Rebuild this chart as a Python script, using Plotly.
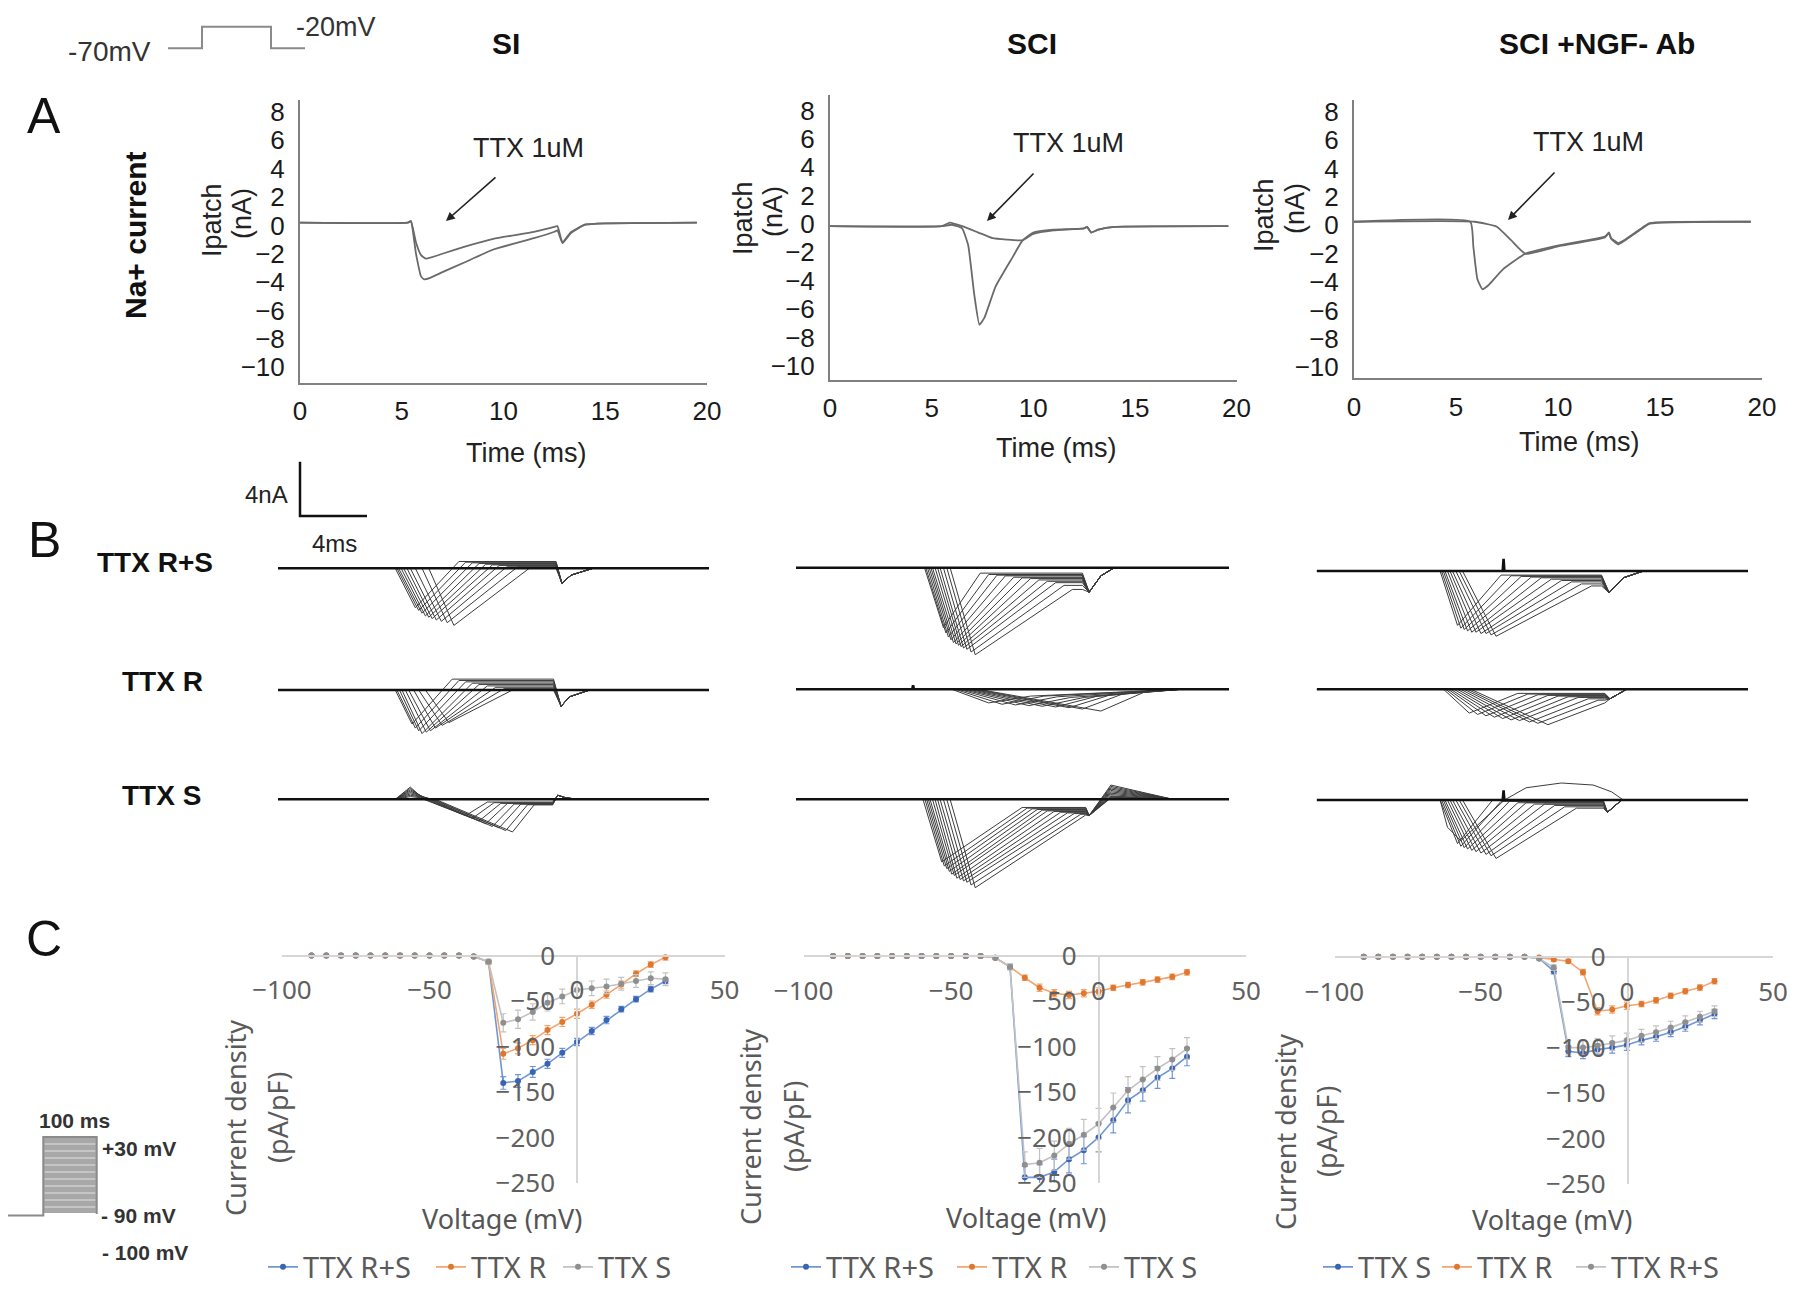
import plotly.graph_objects as go

W, H = 1800, 1290
OFF = 8  # the page body adds an 8 px margin around the figure
FA = "Liberation Sans, Arial, sans-serif"
FC = "Noto Sans, Open Sans, sans-serif"

# ---------------- Panel A : Na+ current (time ms, current nA) ----------------
A_XTICKS = [0, 5, 10, 15, 20]
A_YTICKS = [-10, -8, -6, -4, -2, 0, 2, 4, 6, 8]

A_SI_ctrl_t = [0, 5.3, 5.45, 5.7, 5.95, 6.1, 6.4, 7.0, 8.1, 9.5, 11.5, 12.5, 12.65, 12.9, 13.3, 14.0, 15.0, 19.5]
A_SI_ctrl_v = [0.2, 0.2, 0.3, -2.0, -3.6, -3.8, -3.7, -3.3, -2.6, -1.7, -0.9, -0.45, -0.35, -1.25, -0.55, 0.05, 0.15, 0.2]
A_SI_ttx_t = [0, 5.3, 5.45, 5.7, 5.95, 6.2, 7.0, 8.1, 9.5, 11.5, 12.5, 12.65, 12.9, 13.3, 14.0, 15.0, 19.5]
A_SI_ttx_v = [0.2, 0.2, 0.3, -1.2, -2.1, -2.35, -2.0, -1.5, -0.95, -0.45, -0.1, -0.05, -1.2, -0.5, 0.05, 0.15, 0.2]

A_SCI_ctrl_t = [0, 5.5, 6.0, 6.5, 6.8, 7.1, 7.35, 7.6, 8.15, 9.0, 9.45, 10.0, 11.0, 12.5, 12.65, 12.85, 13.2, 14.0, 19.6]
A_SCI_ctrl_v = [-0.15, -0.15, -0.05, -0.3, -1.5, -5.0, -7.1, -6.6, -4.4, -2.3, -1.2, -0.6, -0.4, -0.3, -0.2, -0.6, -0.4, -0.2, -0.15]
A_SCI_ttx_t = [0, 5.5, 5.9, 6.5, 7.3, 8.0, 8.7, 9.45, 10.0, 11.0, 12.5, 12.65, 12.85, 13.2, 14.0, 19.6]
A_SCI_ttx_v = [-0.15, -0.15, 0.1, -0.15, -0.6, -1.0, -1.1, -1.15, -0.7, -0.45, -0.3, -0.2, -0.6, -0.4, -0.2, -0.15]

A_NGF_ctrl_t = [0, 5.7, 5.85, 6.05, 6.3, 6.6, 7.3, 8.4, 10.1, 12.3, 12.5, 12.6, 12.95, 13.3, 14.0, 14.5, 19.45]
A_NGF_ctrl_v = [0.25, 0.25, -1.5, -3.8, -4.5, -4.2, -3.1, -2.0, -1.4, -0.8, -0.5, -0.9, -1.25, -1.0, -0.3, 0.15, 0.25]
A_NGF_ttx_t = [0, 5.9, 7.0, 7.7, 8.4, 10.1, 12.3, 12.5, 12.6, 12.95, 13.3, 14.0, 14.5, 19.45]
A_NGF_ttx_v = [0.25, 0.25, -0.1, -1.05, -2.0, -1.45, -0.85, -0.55, -0.95, -1.35, -1.05, -0.35, 0.12, 0.25]

# ---------------- Panel B : current families (ms from trace start, nA) ----------------
# SI column
B_SI_RS_fall = [7.0, 7.1, 7.2, 7.35, 7.5, 7.7, 7.9, 8.2, 8.6, 9.0]
B_SI_RS_pk_t = [8.2, 8.4, 8.6, 8.8, 9.0, 9.2, 9.45, 9.75, 10.1, 10.5]
B_SI_RS_pk_v = [-2.9, -3.1, -3.3, -3.5, -3.6, -3.7, -3.8, -3.9, -4.0, -4.2]
B_SI_RS_rec_t = [10.8, 11.2, 11.6, 12.0, 12.4, 12.8, 13.2, 13.7, 14.3, 15.0]
B_SI_RS_rec_v = [0.5, 0.45, 0.4, 0.35, 0.3, 0.25, 0.2, 0.15, 0.1, 0.0]
B_SI_RS_tail_t = [16.95, 17.5, 18.8]
B_SI_RS_tail_v = [-1.1, -0.5, 0.0]

B_SI_R_fall = [7.0, 7.1, 7.25, 7.4, 7.6, 7.8, 8.1, 8.4, 8.8]
B_SI_R_pk_t = [8.0, 8.2, 8.4, 8.6, 8.85, 9.1, 9.4, 9.8, 10.2]
B_SI_R_pk_v = [-2.5, -2.8, -3.0, -3.2, -3.1, -3.0, -2.8, -2.6, -2.4]
B_SI_R_rec_t = [10.4, 10.8, 11.2, 11.6, 12.0, 12.5, 13.0, 13.5, 14.0]
B_SI_R_rec_v = [0.8, 0.7, 0.6, 0.5, 0.4, 0.3, 0.2, 0.1, 0.0]
B_SI_R_tail_t = [16.9, 17.4, 18.6]
B_SI_R_tail_v = [-1.2, -0.5, 0.0]

B_SI_S_blob = [0.9, 0.8, 0.7, 0.6, 0.5, 0.4, 0.3, 0.2]
B_SI_S_fall = [8.7, 8.8, 8.9, 9.0, 9.1, 9.2, 9.3, 9.4]
B_SI_S_pk_t = [11.2, 11.6, 12.0, 12.4, 12.8, 13.2, 13.6, 14.0]
B_SI_S_pk_v = [-1.2, -1.4, -1.6, -1.8, -2.0, -2.1, -2.3, -2.4]
B_SI_S_rec_t = [12.5, 12.9, 13.3, 13.7, 14.1, 14.5, 14.9, 15.3]
B_SI_S_rec_v = [-0.2, -0.25, -0.3, -0.3, -0.35, -0.35, -0.4, -0.4]
B_SI_S_tail_t = [16.7, 17.2, 18.0]
B_SI_S_tail_v = [0.3, 0.1, 0.0]

# SCI column
B_SCI_RS_fall = [7.67, 7.75, 7.85, 7.95, 8.05, 8.15, 8.3, 8.45, 8.6, 8.8, 9.0, 9.2]
B_SCI_RS_pk_t = [8.8, 8.95, 9.1, 9.25, 9.4, 9.55, 9.7, 9.85, 10.0, 10.2, 10.45, 10.7]
B_SCI_RS_pk_v = [-4.4, -4.8, -5.1, -5.3, -5.5, -5.6, -5.7, -5.8, -5.9, -6.0, -6.2, -6.4]
B_SCI_RS_rec_t = [11.0, 11.5, 12.0, 12.5, 13.0, 13.5, 14.0, 14.5, 15.0, 15.5, 16.0, 16.5]
B_SCI_RS_rec_v = [-0.4, -0.5, -0.55, -0.6, -0.7, -0.75, -0.8, -0.9, -1.0, -1.1, -1.3, -1.6]
B_SCI_RS_tail_t = [17.5, 18.2, 19.0]
B_SCI_RS_tail_v = [-1.8, -0.6, 0.0]

B_SCI_R_fall = [9.3, 9.5, 9.7, 9.9, 10.1, 10.3, 10.5, 10.7, 10.9]
B_SCI_R_pk_t = [11.5, 12.3, 13.1, 13.9, 14.7, 15.5, 16.3, 17.1, 18.2]
B_SCI_R_pk_v = [-1.0, -1.1, -1.15, -1.2, -1.25, -1.3, -1.35, -1.45, -1.6]
B_SCI_R_rec_t = [14.0, 14.8, 15.6, 16.4, 17.2, 18.0, 18.8, 19.6, 21.0]
B_SCI_R_rec_v = [-0.5, -0.5, -0.55, -0.6, -0.6, -0.5, -0.4, -0.3, -0.1]
B_SCI_R_tail_t = [23.0]
B_SCI_R_tail_v = [0.0]

B_SCI_S_fall = [7.58, 7.7, 7.8, 7.9, 8.0, 8.15, 8.3, 8.45, 8.6, 8.8, 9.0, 9.2]
B_SCI_S_pk_t = [8.7, 8.85, 9.0, 9.15, 9.3, 9.45, 9.6, 9.8, 10.0, 10.2, 10.45, 10.7]
B_SCI_S_pk_v = [-4.6, -4.9, -5.1, -5.3, -5.5, -5.6, -5.8, -5.9, -6.0, -6.1, -6.3, -6.5]
B_SCI_S_rec_t = [13.5, 13.8, 14.1, 14.4, 14.7, 15.0, 15.4, 15.8, 16.2, 16.6, 17.0, 17.3]
B_SCI_S_rec_v = [-0.6, -0.65, -0.7, -0.75, -0.8, -0.85, -0.9, -0.95, -1.0, -1.05, -1.1, -1.15]
B_SCI_S_tail_t = [17.5]
B_SCI_S_tail_v = [-1.2]
B_SCI_S_bump = [1.05, 0.95, 0.85, 0.75, 0.65, 0.55, 0.45, 0.35, 0.25, 0.2, 0.15, 0.1]
B_SCI_S_post_t = [22.5]
B_SCI_S_post_v = [0.0]

# SCI + NGF-Ab column
B_NGF_RS_fall = [7.36, 7.45, 7.55, 7.65, 7.8, 7.95, 8.1, 8.3, 8.5, 8.7]
B_NGF_RS_pk_t = [8.4, 8.6, 8.8, 9.0, 9.25, 9.5, 9.8, 10.1, 10.4, 10.7]
B_NGF_RS_pk_v = [-4.0, -4.2, -4.3, -4.4, -4.5, -4.5, -4.6, -4.6, -4.7, -4.8]
B_NGF_RS_rec_t = [11.0, 11.6, 12.2, 12.8, 13.4, 14.0, 14.6, 15.2, 15.8, 16.4]
B_NGF_RS_rec_v = [-0.3, -0.35, -0.4, -0.45, -0.5, -0.6, -0.7, -0.8, -0.95, -1.1]
B_NGF_RS_tail_t = [17.45, 18.3, 19.5]
B_NGF_RS_tail_v = [-1.6, -0.5, 0.0]

B_NGF_R_fall = [7.57, 7.7, 7.85, 8.0, 8.2, 8.4, 8.6, 8.8, 9.0, 9.2]
B_NGF_R_pk_t = [9.1, 9.6, 10.1, 10.6, 11.1, 11.6, 12.1, 12.7, 13.2, 13.8]
B_NGF_R_pk_v = [-1.75, -1.85, -1.95, -2.05, -2.15, -2.25, -2.3, -2.4, -2.5, -2.6]
B_NGF_R_rec_t = [12.0, 12.6, 13.2, 13.8, 14.4, 15.0, 15.6, 16.2, 16.8, 17.2]
B_NGF_R_rec_v = [-0.3, -0.35, -0.4, -0.45, -0.5, -0.55, -0.6, -0.7, -0.8, -1.0]
B_NGF_R_tail_t = [17.5, 18.5]
B_NGF_R_tail_v = [-0.7, 0.0]

B_NGF_S_fall = [7.36, 7.45, 7.55, 7.65, 7.8, 7.95, 8.1, 8.3, 8.5, 8.7]
B_NGF_S_pk_t = [8.4, 8.6, 8.8, 9.0, 9.25, 9.5, 9.8, 10.1, 10.4, 10.7]
B_NGF_S_pk_v = [-3.2, -3.4, -3.5, -3.6, -3.7, -3.8, -3.9, -4.0, -4.1, -4.3]
B_NGF_S_rec_t = [10.5, 11.0, 11.5, 12.0, 12.5, 13.0, 13.6, 14.2, 14.8, 15.5]
B_NGF_S_rec_v = [0.0, -0.1, -0.1, -0.2, -0.2, -0.3, -0.3, -0.4, -0.5, -0.6]
B_NGF_S_tail_t = [17.35, 18.2]
B_NGF_S_tail_v = [-0.9, 0.0]
B_NGF_S_out_t = [7.36, 7.8, 8.6, 11.2, 12.5, 14.6, 16.5, 17.6, 18.3]
B_NGF_S_out_v = [0.0, -2.0, -3.0, 0.0, 0.9, 1.25, 1.1, 0.6, 0.0]

# small artifacts on baselines  (time ms, amplitude nA)
B_SCI_R_spike = [6.99, 0.3]
B_NGF_RS_spike = [11.15, 0.9]
B_NGF_S_spike = [11.15, 0.7]

# ---------------- Panel C : I-V curves (mV, pA/pF) ----------------
C_XTICKS = [-100, -50, 0, 50]
C_YTICKS = [-250, -200, -150, -100, -50, 0]
C_V = [-90, -85, -80, -75, -70, -65, -60, -55, -50, -45, -40, -35, -30, -25, -20, -15, -10, -5, 0, 5, 10, 15, 20, 25, 30]

C_SI_RS = [0, 0, 0, 0, 0, 0, 0, 0, 0, 0, 0, -1, -7, -140, -138, -128, -119, -107, -95, -83, -71, -59, -48, -37, -28]
C_SI_R = [0, 0, 0, 0, 0, 0, 0, 0, 0, 0, 0, -1, -7, -108, -102, -93, -82, -73, -64, -54, -43, -32, -20, -10, -2]
C_SI_S = [0, 0, 0, 0, 0, 0, 0, 0, 0, 0, 0, -1, -7, -74, -70, -62, -52, -45, -38, -36, -34, -31, -28, -25, -26]
C_SI_RS_err = [1, 1, 1, 1, 1, 1, 1, 1, 1, 1, 1, 1, 2, 7, 7, 6, 5, 5, 4, 4, 4, 3, 3, 3, 3]
C_SI_R_err = [1, 1, 1, 1, 1, 1, 1, 1, 1, 1, 1, 1, 2, 6, 6, 5, 5, 5, 5, 4, 4, 4, 3, 3, 3]
C_SI_S_err = [1, 1, 1, 1, 1, 1, 1, 1, 1, 1, 1, 1, 3, 10, 10, 9, 9, 8, 8, 8, 8, 7, 7, 7, 7]

C_SCI_RS = [0, 0, 0, 0, 0, 0, 0, 0, 0, 0, 0, -2, -12, -244, -244, -238, -224, -214, -200, -181, -159, -148, -134, -124, -111]
C_SCI_R = [0, 0, 0, 0, 0, 0, 0, 0, 0, 0, 0, -2, -12, -24, -35, -41, -43, -41, -39, -35, -32, -29, -26, -23, -18]
C_SCI_S = [0, 0, 0, 0, 0, 0, 0, 0, 0, 0, 0, -2, -12, -230, -228, -220, -207, -197, -185, -167, -148, -136, -124, -114, -102]
C_SCI_RS_err = [1, 1, 1, 1, 1, 1, 1, 1, 1, 1, 1, 1, 3, 12, 14, 14, 15, 15, 16, 14, 14, 12, 12, 11, 10]
C_SCI_R_err = [1, 1, 1, 1, 1, 1, 1, 1, 1, 1, 1, 1, 2, 3, 4, 4, 4, 4, 4, 3, 3, 3, 3, 3, 3]
C_SCI_S_err = [1, 1, 1, 1, 1, 1, 1, 1, 1, 1, 1, 1, 3, 14, 16, 16, 17, 17, 17, 16, 15, 14, 13, 12, 12]

C_NGF_S = [0, 0, 0, 0, 0, 0, 0, 0, 0, 0, 0, 0, -2, -16, -104, -106, -102, -100, -97, -92, -88, -83, -77, -70, -63]
C_NGF_R = [0, 0, 0, 0, 0, 0, 0, 0, 0, 0, 0, 0, -1, -3, -5, -17, -60, -58, -54, -52, -48, -43, -38, -34, -27]
C_NGF_RS = [0, 0, 0, 0, 0, 0, 0, 0, 0, 0, 0, 0, -2, -12, -100, -100, -98, -95, -92, -87, -83, -78, -72, -66, -60]
C_NGF_S_err = [1, 1, 1, 1, 1, 1, 1, 1, 1, 1, 1, 1, 1, 3, 6, 6, 6, 6, 6, 5, 5, 5, 5, 5, 5]
C_NGF_R_err = [1, 1, 1, 1, 1, 1, 1, 1, 1, 1, 1, 1, 1, 2, 2, 3, 4, 4, 4, 3, 3, 3, 3, 3, 3]
C_NGF_RS_err = [1, 1, 1, 1, 1, 1, 1, 1, 1, 1, 1, 1, 1, 3, 8, 8, 8, 8, 8, 7, 7, 7, 7, 6, 6]

# ======================================================================
def px2x(p):
    return (p - OFF) / W


def px2y(p):
    return 1 - (p - OFF) / H


def names(i):
    s = '' if i == 1 else str(i)
    return 'xaxis' + s, 'yaxis' + s, 'x' + s, 'y' + s


fig = go.Figure()
layout = dict(width=W, height=H, margin=dict(l=0, r=0, t=0, b=0, pad=0, autoexpand=False),
              template='none', font=dict(family=FA, color='#111'),
              paper_bgcolor='white', plot_bgcolor='rgba(0,0,0,0)', showlegend=True)
annotations = []
shapes = []

TICK_A = dict(family=FA, size=26, color='#1a1a1a')
TICK_C = dict(family=FC, size=26, color='#606060')

# ---------- A axes ----------
A_geom = [(300, 707, 100, 382.7, [-11.1, 8.85]),
          (830, 1236.5, 95, 380, [-11.0, 9.1]),
          (1354, 1762, 100, 378.3, [-10.77, 8.82])]
A_data = [(A_SI_ctrl_t, A_SI_ctrl_v, A_SI_ttx_t, A_SI_ttx_v),
          (A_SCI_ctrl_t, A_SCI_ctrl_v, A_SCI_ttx_t, A_SCI_ttx_v),
          (A_NGF_ctrl_t, A_NGF_ctrl_v, A_NGF_ttx_t, A_NGF_ttx_v)]
for k, ((x0, x1, y0, y1, yr), (ct, cv, tt, tv)) in enumerate(zip(A_geom, A_data)):
    i = k + 1
    xa, ya, xid, yid = names(i)
    layout[xa] = dict(domain=[px2x(x0), px2x(x1)], range=[0, 20], anchor=yid, showline=True,
                      linecolor='#808080', linewidth=2, ticks='', tickvals=A_XTICKS, tickfont=TICK_A,
                      showgrid=False, zeroline=False, ticklabelstandoff=4, automargin=False)
    layout[ya] = dict(domain=[px2y(y1), px2y(y0)], range=yr, anchor=xid, showline=True,
                      linecolor='#808080', linewidth=2, ticks='', tickvals=A_YTICKS, tickfont=TICK_A,
                      showgrid=False, zeroline=False, ticklabelstandoff=8, automargin=False)
    for t, v in ((tt, tv), (ct, cv)):
        fig.add_trace(go.Scatter(x=t, y=v, mode='lines', line=dict(color='#6a6a6a', width=1.8, shape='spline',
                                                                  smoothing=0.4),
                                 xaxis=xid, yaxis=yid, showlegend=False, hoverinfo='skip'))

# ---------- B axes ----------
PX_PER_MS = 16.75
PX_PER_NA = 13.6
B_cols = [(278, 709), (796, 1229), (1316.8, 1748)]
B_base = [[568.3, 690, 799.3], [567.7, 689.3, 799.3], [571, 689.3, 800]]
B_dn = [95, 70, 100]
B_up = 25


def family(L, fall, pk_t, pk_v, rec_t, rec_v, tail_t, tail_v, onset, step=None,
           blob=None, blob_t=None, bump=None, bump_t=None, post_t=(), post_v=()):
    xs, ys = [], []
    for i in range(len(fall)):
        pts = [(0, 0), (onset, 0)]
        if blob is not None:
            pts.append((blob_t, blob[i]))
        pts += [(fall[i], 0), (pk_t[i], pk_v[i]), (rec_t[i], rec_v[i])]
        if step is not None and step > rec_t[i]:
            pts.append((step, rec_v[i]))
        pts += list(zip(tail_t, tail_v))
        if bump is not None:
            pts.append((bump_t, bump[i]))
        pts += list(zip(post_t, post_v))
        pts.append((L, 0))
        xs += [p[0] for p in pts] + [None]
        ys += [p[1] for p in pts] + [None]
    return xs, ys


B_fams = [
    [dict(fall=B_SI_RS_fall, pk_t=B_SI_RS_pk_t, pk_v=B_SI_RS_pk_v, rec_t=B_SI_RS_rec_t, rec_v=B_SI_RS_rec_v,
          tail_t=B_SI_RS_tail_t, tail_v=B_SI_RS_tail_v, onset=7.0, step=16.6),
     dict(fall=B_SI_R_fall, pk_t=B_SI_R_pk_t, pk_v=B_SI_R_pk_v, rec_t=B_SI_R_rec_t, rec_v=B_SI_R_rec_v,
          tail_t=B_SI_R_tail_t, tail_v=B_SI_R_tail_v, onset=7.0, step=16.45),
     dict(fall=B_SI_S_fall, pk_t=B_SI_S_pk_t, pk_v=B_SI_S_pk_v, rec_t=B_SI_S_rec_t, rec_v=B_SI_S_rec_v,
          tail_t=B_SI_S_tail_t, tail_v=B_SI_S_tail_v, onset=7.0, step=16.4, blob=B_SI_S_blob, blob_t=7.9)],
    [dict(fall=B_SCI_RS_fall, pk_t=B_SCI_RS_pk_t, pk_v=B_SCI_RS_pk_v, rec_t=B_SCI_RS_rec_t, rec_v=B_SCI_RS_rec_v,
          tail_t=B_SCI_RS_tail_t, tail_v=B_SCI_RS_tail_v, onset=7.67, step=17.1),
     dict(fall=B_SCI_R_fall, pk_t=B_SCI_R_pk_t, pk_v=B_SCI_R_pk_v, rec_t=B_SCI_R_rec_t, rec_v=B_SCI_R_rec_v,
          tail_t=B_SCI_R_tail_t, tail_v=B_SCI_R_tail_v, onset=7.67),
     dict(fall=B_SCI_S_fall, pk_t=B_SCI_S_pk_t, pk_v=B_SCI_S_pk_v, rec_t=B_SCI_S_rec_t, rec_v=B_SCI_S_rec_v,
          tail_t=B_SCI_S_tail_t, tail_v=B_SCI_S_tail_v, onset=7.58, step=17.3,
          bump=B_SCI_S_bump, bump_t=18.8, post_t=B_SCI_S_post_t, post_v=B_SCI_S_post_v)],
    [dict(fall=B_NGF_RS_fall, pk_t=B_NGF_RS_pk_t, pk_v=B_NGF_RS_pk_v, rec_t=B_NGF_RS_rec_t, rec_v=B_NGF_RS_rec_v,
          tail_t=B_NGF_RS_tail_t, tail_v=B_NGF_RS_tail_v, onset=7.36, step=17.0),
     dict(fall=B_NGF_R_fall, pk_t=B_NGF_R_pk_t, pk_v=B_NGF_R_pk_v, rec_t=B_NGF_R_rec_t, rec_v=B_NGF_R_rec_v,
          tail_t=B_NGF_R_tail_t, tail_v=B_NGF_R_tail_v, onset=7.57, step=17.2),
     dict(fall=B_NGF_S_fall, pk_t=B_NGF_S_pk_t, pk_v=B_NGF_S_pk_v, rec_t=B_NGF_S_rec_t, rec_v=B_NGF_S_rec_v,
          tail_t=B_NGF_S_tail_t, tail_v=B_NGF_S_tail_v, onset=7.36, step=17.1)],
]
B_spikes = {(1, 1): B_SCI_R_spike, (2, 0): B_NGF_RS_spike, (2, 2): B_NGF_S_spike}

ax_i = 4
for c, (left, right) in enumerate(B_cols):
    L = (right - left) / PX_PER_MS
    for r in range(3):
        b = B_base[c][r]
        top, bot = b - B_up, b + B_dn[r]
        xa, ya, xid, yid = names(ax_i)
        layout[xa] = dict(domain=[px2x(left), px2x(right)], range=[0, L], anchor=yid, visible=False,
                          automargin=False)
        layout[ya] = dict(domain=[px2y(bot), px2y(top)], range=[-B_dn[r] / PX_PER_NA, B_up / PX_PER_NA],
                          anchor=xid, visible=False, automargin=False)
        xs, ys = family(L, **B_fams[c][r])
        fig.add_trace(go.Scatter(x=xs, y=ys, mode='lines', line=dict(color='#3c3c3c', width=1),
                                 xaxis=xid, yaxis=yid, showlegend=False, hoverinfo='skip'))
        if (c, r) == (2, 2):
            fig.add_trace(go.Scatter(x=B_NGF_S_out_t + [L], y=B_NGF_S_out_v + [0], mode='lines',
                                     line=dict(color='#3c3c3c', width=1), xaxis=xid, yaxis=yid,
                                     showlegend=False, hoverinfo='skip'))
        bx, by = [0], [0]
        if (c, r) in B_spikes:
            st, sv = B_spikes[(c, r)]
            bx += [st - 0.05, st, st + 0.05]
            by += [0, sv, 0]
        bx.append(L)
        by.append(0)
        fig.add_trace(go.Scatter(x=bx, y=by, mode='lines', line=dict(color='#111', width=2.6),
                                 xaxis=xid, yaxis=yid, showlegend=False, hoverinfo='skip'))
        ax_i += 1

# ---------- C axes ----------
BLUE_L, BLUE_M = '#6f97d8', '#3b63b4'
ORG_L, ORG_M = '#f3a56f', '#e0772e'
GRY_L, GRY_M = '#c2c2c2', '#8f8f8f'
C_geom = [(282, 724.5, 577, 955.5, 1183),
          (803.6, 1246, 1098.6, 956, 1182.8),
          (1334.5, 1773, 1627.5, 956.7, 1184)]
C_series = [
    [('TTX R+S', C_SI_RS, C_SI_RS_err, BLUE_L, BLUE_M),
     ('TTX R', C_SI_R, C_SI_R_err, ORG_L, ORG_M),
     ('TTX S', C_SI_S, C_SI_S_err, GRY_L, GRY_M)],
    [('TTX R+S', C_SCI_RS, C_SCI_RS_err, BLUE_L, BLUE_M),
     ('TTX R', C_SCI_R, C_SCI_R_err, ORG_L, ORG_M),
     ('TTX S', C_SCI_S, C_SCI_S_err, GRY_L, GRY_M)],
    [('TTX S', C_NGF_S, C_NGF_S_err, BLUE_L, BLUE_M),
     ('TTX R', C_NGF_R, C_NGF_R_err, ORG_L, ORG_M),
     ('TTX R+S', C_NGF_RS, C_NGF_RS_err, GRY_L, GRY_M)],
]
C_legend_x = [[263, 431, 558], [786, 952, 1084], [1318, 1437, 1571]]
leg_n = 1
for k, ((x0, x1, xz, y0, y1), series) in enumerate(zip(C_geom, C_series)):
    i = 13 + k
    xa, ya, xid, yid = names(i)
    layout[xa] = dict(domain=[px2x(x0), px2x(x1)], range=[-100, 50], anchor='free', position=px2y(y0),
                      side='bottom', showline=True, linecolor='#d6d6d6', linewidth=1.5, ticks='',
                      tickvals=C_XTICKS, tickfont=TICK_C, showgrid=False, zeroline=False,
                      ticklabelstandoff=12, automargin=False)
    layout[ya] = dict(domain=[px2y(y1), px2y(y0)], range=[-250, 0], anchor='free', position=px2x(xz),
                      side='left', showline=True, linecolor='#d6d6d6', linewidth=1.5, ticks='',
                      tickvals=C_YTICKS, tickfont=TICK_C, showgrid=False, zeroline=False,
                      ticklabelstandoff=16, automargin=False)
    for j, (nm, vals, err, lc, mc) in enumerate(series):
        lname = 'legend' if leg_n == 1 else f'legend{leg_n}'
        fig.add_trace(go.Scatter(
            x=C_V, y=vals, name=nm, mode='lines+markers', legend=lname,
            line=dict(color=lc, width=1.6), marker=dict(color=mc, size=6),
            error_y=dict(type='data', array=err, visible=True, color=lc, thickness=1.2, width=3),
            xaxis=xid, yaxis=yid, cliponaxis=False, hoverinfo='skip'))
        layout[lname] = dict(x=px2x(C_legend_x[k][j]), y=px2y(1267), xanchor='left', yanchor='middle',
                             orientation='h', font=dict(family=FC, size=29, color='#5a5a5a'),
                             bgcolor='rgba(0,0,0,0)', borderwidth=0, itemwidth=30)
        leg_n += 1


# ---------- texts ----------
def txt(s, x, y, size, bold=False, color='#111', family=FA, angle=0):
    annotations.append(dict(text=(f'<b>{s}</b>' if bold else s), x=px2x(x), y=px2y(y), xref='paper',
                            yref='paper', showarrow=False, textangle=angle, xanchor='center',
                            yanchor='middle', font=dict(size=size, color=color, family=family)))


def arrow(hx, hy, tx, ty):
    annotations.append(dict(text='', x=px2x(hx), y=px2y(hy), xref='paper', yref='paper', showarrow=True,
                            ax=tx - hx, ay=ty - hy, axref='pixel', ayref='pixel', arrowhead=2,
                            arrowsize=1.1, arrowwidth=1.6, arrowcolor='#222', standoff=0, startstandoff=0))


txt('-70mV', 109, 52, 28, color='#333')
txt('-20mV', 336, 27, 27, color='#333')
txt('SI', 506, 43, 30, bold=True)
txt('SCI', 1032, 43, 30, bold=True)
txt('SCI +NGF- Ab', 1597, 43, 30, bold=True)
txt('A', 44, 116, 50)
txt('B', 44, 540, 50)
txt('C', 44, 939, 50)
txt('Na+ current', 135, 235, 30, bold=True, angle=-90)

for (ix, nx, iy), (tx, ty), (ttx, tty), (hx, hy, ax_, ay_) in zip(
        [(212, 242, 220), (743, 773, 218), (1264, 1295, 215)],
        [(526, 453), (1056, 448), (1579, 442)],
        [(528, 148), (1068, 143), (1588, 142)],
        [(446, 221, 497, 176), (987, 221, 1035, 172), (1508, 220, 1556, 171)]):
    txt('Ipatch', ix, iy, 27, angle=-90, color='#222')
    txt('(nA)', nx, iy - 6, 27, angle=-90, color='#222')
    txt('Time (ms)', tx, ty, 27, color='#222')
    txt('TTX 1uM', ttx, tty, 27, color='#222')
    arrow(hx, hy, ax_, ay_)

txt('4nA', 266, 495, 24, color='#222')
txt('4ms', 334, 543, 24, color='#222')
txt('TTX R+S', 155, 562, 28, bold=True)
txt('TTX R', 162, 682, 28, bold=True)
txt('TTX S', 161, 795, 28, bold=True)

for (cx, px_, cy), (vx, vy) in zip([(235, 277, 1118), (750, 793, 1127), (1285, 1326, 1132)],
                                   [(502, 1218), (1026, 1217), (1552, 1219)]):
    txt('Current density', cx, cy, 27, color='#5a5a5a', family=FC, angle=-90)
    txt('(pA/pF)', px_, cy, 27, color='#5a5a5a', family=FC, angle=-90)
    txt('Voltage (mV)', vx, vy, 27, color='#555', family=FC)

txt('100 ms', 74, 1120, 21, bold=True, color='#333')
txt('+30 mV', 139, 1148, 21, bold=True, color='#333')
txt('- 90 mV', 138, 1215, 21, bold=True, color='#333')
txt('- 100 mV', 145, 1252, 21, bold=True, color='#333')


# ---------- schematic shapes ----------
def path(points, color, width):
    d = 'M ' + ' L '.join(f'{px2x(a)},{px2y(b)}' for a, b in points)
    shapes.append(dict(type='path', path=d, xref='paper', yref='paper',
                       line=dict(color=color, width=width)))


# voltage step protocol (top-left)
path([(168, 48.3), (202, 48.3), (202, 26.7), (271, 26.7), (271, 48.3), (305, 48.3)], '#8a8a8a', 2)
# scale bar
path([(300, 461.7), (300, 516), (367, 516)], '#111', 2.5)
# bottom-left protocol box
shapes.append(dict(type='rect', xref='paper', yref='paper', x0=px2x(43.3), x1=px2x(96.7),
                   y0=px2y(1213), y1=px2y(1137), fillcolor='#a8a8a8', line=dict(width=0)))
for yy in [1144, 1151, 1158, 1165, 1172, 1179, 1186, 1193, 1200, 1207]:
    path([(44.5, yy), (95.5, yy)], '#e2e2e2', 1)
path([(5, 1215.5), (43.3, 1215.5), (43.3, 1137), (96.7, 1137), (96.7, 1214)], '#8a8a8a', 2)

layout['annotations'] = annotations
layout['shapes'] = shapes
fig.update_layout(**layout)
fig.write_html('out.html')
